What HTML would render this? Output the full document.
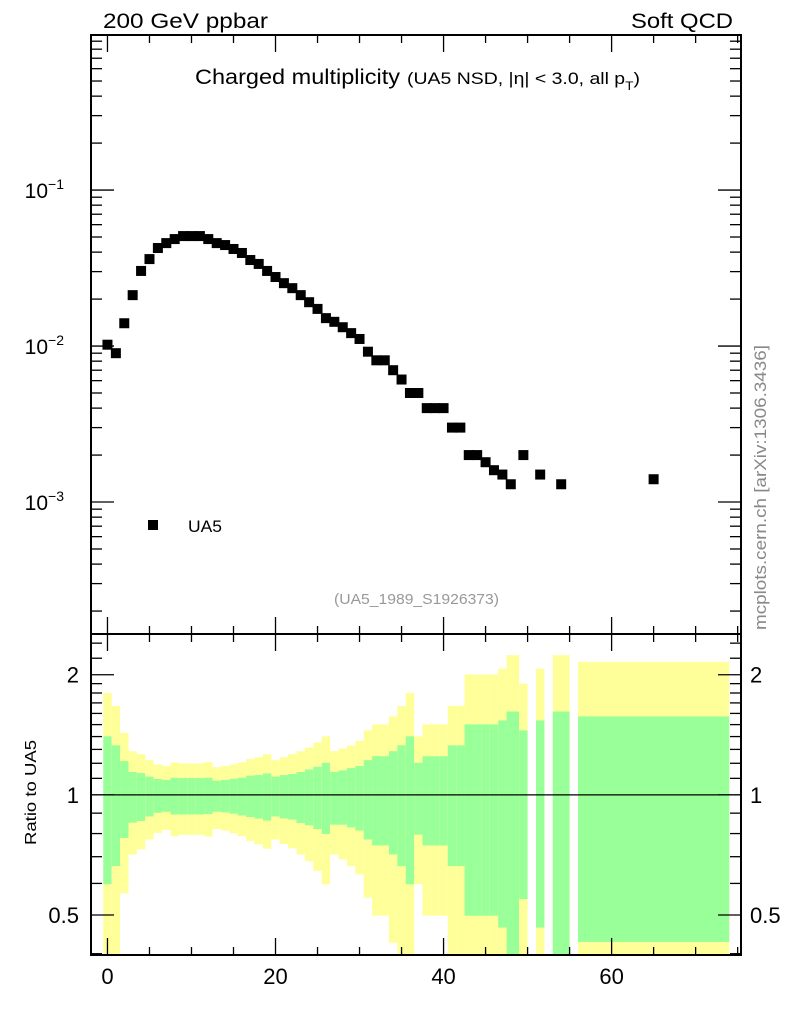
<!DOCTYPE html>
<html><head><meta charset="utf-8"><style>
html,body{margin:0;padding:0;background:#fff;}
svg{display:block;font-family:"Liberation Sans",sans-serif;}
</style></head><body>
<svg id="c" width="786" height="1024" xmlns="http://www.w3.org/2000/svg"></svg>
<script>
// ---- data ----
const xVals = [0,1,2,3,4,5,6,7,8,9,10,11,12,13,14,15,16,17,18,19,20,21,22,23,24,25,26,27,28,29,30,31,32,33,34,35,36,37,38,39,40,41,42,43,44,45,46,47,48,49.5,51.5,54,65];
const yVals = [0.0102,0.0090,0.0140,0.0212,0.0303,0.0361,0.0425,0.0457,0.0485,0.0507,0.0507,0.0507,0.0485,0.0457,0.0444,0.0419,0.0395,0.0356,0.0336,0.0303,0.0277,0.0253,0.0235,0.0212,0.0191,0.0173,0.0151,0.0143,0.0132,0.0121,0.0111,0.0092,0.0081,0.0081,0.0070,0.0061,0.0050,0.0050,0.0040,0.0040,0.0040,0.0030,0.0030,0.0020,0.0020,0.0018,0.0016,0.0015,0.0013,0.0020,0.0015,0.0013,0.0014];
const binLo = [-0.5,0.5,1.5,2.5,3.5,4.5,5.5,6.5,7.5,8.5,9.5,10.5,11.5,12.5,13.5,14.5,15.5,16.5,17.5,18.5,19.5,20.5,21.5,22.5,23.5,24.5,25.5,26.5,27.5,28.5,29.5,30.5,31.5,32.5,33.5,34.5,35.5,36.5,37.5,38.5,39.5,40.5,41.5,42.5,43.5,44.5,45.5,46.5,47.5,49,51,53,56];
const binHi = [0.5,1.5,2.5,3.5,4.5,5.5,6.5,7.5,8.5,9.5,10.5,11.5,12.5,13.5,14.5,15.5,16.5,17.5,18.5,19.5,20.5,21.5,22.5,23.5,24.5,25.5,26.5,27.5,28.5,29.5,30.5,31.5,32.5,33.5,34.5,35.5,36.5,37.5,38.5,39.5,40.5,41.5,42.5,43.5,44.5,45.5,46.5,47.5,49,50,52,55,74];
const totUp = [1.80,1.67,1.43,1.287,1.265,1.222,1.192,1.181,1.206,1.199,1.199,1.199,1.208,1.174,1.181,1.192,1.206,1.229,1.243,1.265,1.222,1.243,1.265,1.287,1.314,1.353,1.402,1.287,1.306,1.329,1.365,1.451,1.502,1.502,1.573,1.67,1.80,1.402,1.502,1.502,1.502,1.672,1.672,2.003,2.003,2.003,2.003,2.07,2.239,1.90,2.07,2.239,2.155];
const statUp = [1.402,1.331,1.215,1.141,1.134,1.111,1.096,1.090,1.104,1.102,1.102,1.102,1.104,1.085,1.090,1.098,1.104,1.117,1.121,1.132,1.111,1.121,1.128,1.141,1.158,1.176,1.203,1.141,1.152,1.167,1.181,1.222,1.250,1.250,1.287,1.331,1.402,1.203,1.250,1.250,1.250,1.331,1.331,1.502,1.502,1.502,1.502,1.537,1.618,1.451,1.537,1.618,1.573];
const statDn = [0.597,0.663,0.780,0.852,0.860,0.883,0.902,0.907,0.893,0.893,0.893,0.893,0.895,0.907,0.904,0.897,0.888,0.880,0.872,0.862,0.883,0.873,0.867,0.850,0.839,0.821,0.798,0.842,0.842,0.829,0.814,0.773,0.747,0.747,0.709,0.663,0.597,0.795,0.747,0.747,0.747,0.663,0.663,0.498,0.498,0.498,0.498,0.465,0.30,0.548,0.465,0.30,0.428];
const totDn = [0.30,0.30,0.567,0.709,0.730,0.773,0.803,0.817,0.788,0.794,0.794,0.794,0.786,0.821,0.814,0.801,0.788,0.767,0.752,0.733,0.773,0.753,0.735,0.709,0.682,0.645,0.597,0.709,0.689,0.663,0.632,0.553,0.498,0.498,0.426,0.30,0.30,0.597,0.498,0.498,0.498,0.30,0.30,0.30,0.30,0.30,0.30,0.30,0.30,0.30,0.30,0.30,0.30];
const xTicks = [0,20,40,60];
const yTickExp = [-1,-2,-3];
const rTicks = [2,1,0.5];
const rTickLabels = ["2","1","0.5"];

// ---- geometry ----
const L=91,R=741,T=35,B=634,RT=634,RB=955;
const xmin=-1.96, xmax=75.4;
const X = v => L + (v - xmin) / (xmax - xmin) * (R - L);
const lyTop=-0.006, lyBot=-3.846;
const Y = v => T + (lyTop - Math.log10(v)) / (lyTop - lyBot) * (B - T);
const rTop=Math.log10(2.53), rBot=Math.log10(0.397);
const RY = v => RT + (rTop - Math.log10(v)) / (rTop - rBot) * (RB - RT);
const clampR = y => Math.max(RT, Math.min(RB, y));

const svg = document.getElementById('c');
const NS='http://www.w3.org/2000/svg';
function mk(tag, attrs, parent){const e=document.createElementNS(NS,tag);for(const k in attrs)e.setAttribute(k,attrs[k]);(parent||svg).appendChild(e);return e;}

// ratio bands
const gBand = mk('g',{});


for(let i=0;i<binLo.length;i++){
  const x0=X(binLo[i]), x1=X(binHi[i]);
  const yt=clampR(RY(totUp[i])), yb=clampR(RY(totDn[i]));
  const r1=mk('rect',{x:x0,y:yt,width:x1-x0,height:yb-yt,fill:'#ffff99'},gBand);
  
  
  const st=clampR(RY(statUp[i])), sb=clampR(RY(statDn[i]));
  const r2=mk('rect',{x:x0,y:st,width:x1-x0,height:sb-st,fill:'#99ff99'},gBand);
  
  
}
const one = mk('line',{x1:L,x2:R,y1:RY(1),y2:RY(1),stroke:'#000','stroke-width':1.3});



// frames
for(const [t,b,n] of [[T,B,'main-frame'],[RT,RB,'ratio-frame']]){
  const f=mk('rect',{x:L,y:t,width:R-L,height:b-t,fill:'none',stroke:'#000','stroke-width':2});
  
  
}

// x ticks
for(let v=0; v<=75; v+=5){
  const x=X(v); const maj = v%20===0;
  const len = maj?17:8;
  for(const [yb,dir] of [[B,-1],[T,1],[RB,-1],[RT,1]]){
    mk('line',{x1:x,x2:x,y1:yb,y2:yb+dir*len,stroke:'#000','stroke-width':1.3});
  }
}
xTicks.forEach(v=>{
  const t=mk('text',{x:X(v),y:984,'text-anchor':'middle','font-size':22});
  t.textContent=v;
  
  
});

// main y ticks (log)
for(let e=-4;e<=0;e++){
  for(let k=1;k<=9;k++){
    const v=k*Math.pow(10,e);
    const y=Y(v); if(y<T-0.5||y>B+0.5) continue;
    const len=k===1?23:11;
    mk('line',{x1:L,x2:L+len,y1:y,y2:y,stroke:'#000','stroke-width':1.3});
    mk('line',{x1:R,x2:R-len,y1:y,y2:y,stroke:'#000','stroke-width':1.3});
  }
}
yTickExp.forEach(e=>{
  const t=mk('text',{x:64,y:Y(Math.pow(10,e))+8,'text-anchor':'end','font-size':21});
  t.textContent='10';
  const s=mk('tspan',{dy:-9,'font-size':14},t); s.textContent='\u2212'+Math.abs(e);
  
  
});

// ratio y ticks (log)
[0.4,0.5,0.6,0.7,0.8,0.9,1,2].forEach(v=>{
  const y=RY(v); if(y<RT||y>RB) return;
  const maj = (v===1||v===2||v===0.5);
  const len = maj?23:11;
  mk('line',{x1:L,x2:L+len,y1:y,y2:y,stroke:'#000','stroke-width':1.3});
  mk('line',{x1:R,x2:R-len,y1:y,y2:y,stroke:'#000','stroke-width':1.3});
});
[1.1,1.2,1.3,1.4,1.5,1.6,1.7,1.8,1.9,2.2,2.4].forEach(v=>{
  const y=RY(v); if(y<RT) return;
  mk('line',{x1:L,x2:L+11,y1:y,y2:y,stroke:'#000','stroke-width':1.3});
  mk('line',{x1:R,x2:R-11,y1:y,y2:y,stroke:'#000','stroke-width':1.3});
});
rTicks.forEach((v,i)=>{
  for(const [x,a] of [[79,'end'],[750,'start']]){
    const t=mk('text',{x:x,y:RY(v)+8,'text-anchor':a,'font-size':22});
    t.textContent=rTickLabels[i];
    
    
  }
});

// data points
const gPts = mk('g',{});


for(let i=0;i<xVals.length;i++){
  const p=mk('rect',{x:X(xVals[i])-5,y:Y(yVals[i])-5,width:10,height:10,fill:'#000'},gPts);
  
  
}
</script>
<svg width="786" height="1024" style="position:absolute;left:0;top:0" xmlns="http://www.w3.org/2000/svg">
  <text x="103" y="28" font-size="21" textLength="165" lengthAdjust="spacingAndGlyphs" font-family="Liberation Sans">200 GeV ppbar</text>
  <text x="631" y="28" font-size="21" textLength="102" lengthAdjust="spacingAndGlyphs" font-family="Liberation Sans">Soft QCD</text>
  <text x="195" y="84" font-size="21" textLength="205" lengthAdjust="spacingAndGlyphs" font-family="Liberation Sans">Charged multiplicity</text>
  <text x="407" y="84" font-size="17" textLength="233" lengthAdjust="spacingAndGlyphs" font-family="Liberation Sans">(UA5 NSD, |η| &lt; 3.0, all p<tspan dy="6" font-size="12">T</tspan><tspan dy="-6">)</tspan></text>
  <rect x="148" y="520" width="10" height="10" fill="#000"/>
  <text x="188" y="532" font-size="17" textLength="34" lengthAdjust="spacingAndGlyphs" font-family="Liberation Sans">UA5</text>
  <text x="334" y="604" font-size="15" fill="#999" textLength="165" lengthAdjust="spacingAndGlyphs" font-family="Liberation Sans">(UA5_1989_S1926373)</text>
  <text transform="translate(766,630) rotate(-90)" font-size="17" fill="#888" textLength="285" lengthAdjust="spacingAndGlyphs" font-family="Liberation Sans">mcplots.cern.ch [arXiv:1306.3436]</text>
  <text transform="translate(36,845) rotate(-90)" font-size="16" textLength="105" lengthAdjust="spacingAndGlyphs" font-family="Liberation Sans">Ratio to UA5</text>
</svg>
</body></html>
